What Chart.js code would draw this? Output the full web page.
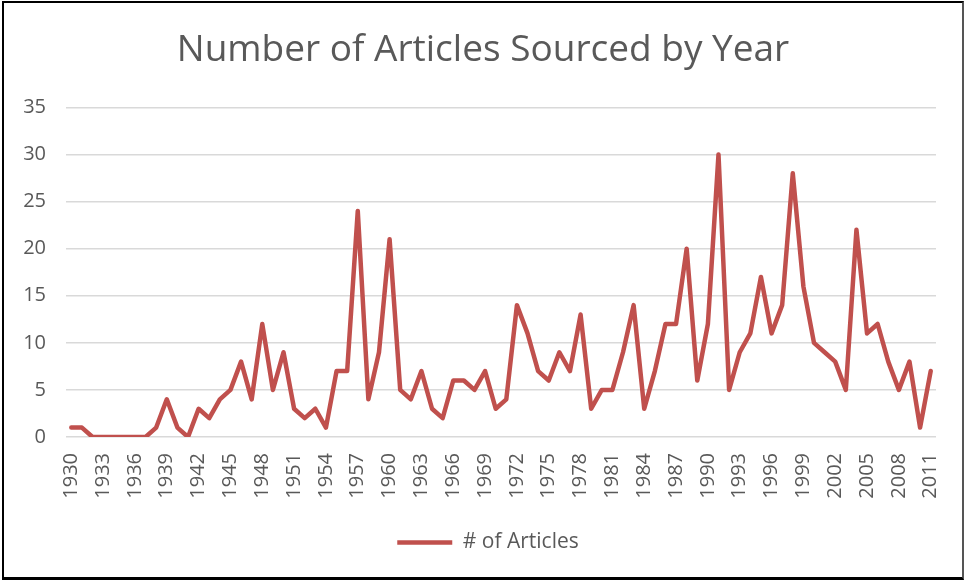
<!DOCTYPE html>
<html>
<head>
<meta charset="utf-8">
<script src="https://cdn.jsdelivr.net/npm/chart.js@4.4.1/dist/chart.umd.min.js"></script>
<style>
  html, body { margin: 0; padding: 0; background: #fff; }
  #wrap { position: relative; width: 964px; height: 581px; }
  #c { position: absolute; left: 0; top: 0; }
  #frame { position: absolute; left: 2px; top: 1px; width: 958px; height: 574px;
           border-left: 2px solid #000; border-top: 2px solid #000;
           border-right: 2px solid #555; border-bottom: 3px solid #000; pointer-events: none; }
</style>
</head>
<body>
<div id="wrap">
  <canvas id="c" width="964" height="581"></canvas>
  <div id="frame"></div>
</div>
<script>
const years = [];
for (let y = 1930; y <= 2011; y++) years.push(String(y));

const articles = [
  1, 1, 0, 0, 0, 0, 0, 0, 1, 4,      // 1930-1939
  1, 0, 3, 2, 4, 5, 8, 4, 12, 5,     // 1940-1949
  9, 3, 2, 3, 1, 7, 7, 24, 4, 9,     // 1950-1959
  21, 5, 4, 7, 3, 2, 6, 6, 5, 7,     // 1960-1969
  3, 4, 14, 11, 7, 6, 9, 7, 13, 3,   // 1970-1979
  5, 5, 9, 14, 3, 7, 12, 12, 20, 6,  // 1980-1989
  12, 30, 5, 9, 11, 17, 11, 14, 28, 16, // 1990-1999
  10, 9, 8, 5, 22, 11, 12, 8, 5, 8,  // 2000-2009
  1, 7                               // 2010-2011
];

const yTicks = [0, 5, 10, 15, 20, 25, 30, 35];
const seriesName = '# of Articles';
const titleText = 'Number of Articles Sourced by Year';

const FONT = '"Open Sans", sans-serif';
const GREY = '#595959';

// shift title and legend horizontally to match the reference centring
const shiftPlugin = {
  id: 'shiftBoxes',
  afterLayout(chart) {
    if (chart.titleBlock) { chart.titleBlock.left += 15; chart.titleBlock.right += 15; }
    if (chart.legend) { chart.legend.left += 20; chart.legend.right += 20; }
  }
};

new Chart(document.getElementById('c'), {
  type: 'line',
  data: {
    labels: years,
    datasets: [{
      label: seriesName,
      data: articles,
      borderColor: '#C0504D',
      backgroundColor: '#C0504D',
      borderWidth: 4.5,
      pointRadius: 0,
      pointHoverRadius: 0,
      tension: 0,
      borderJoinStyle: 'round',
      borderCapStyle: 'round'
    }]
  },
  plugins: [shiftPlugin],
  options: {
    responsive: false,
    animation: false,
    layout: { padding: { left: 0, right: 28, top: 0, bottom: 18 } },
    plugins: {
      title: {
        display: true,
        text: titleText,
        color: GREY,
        font: { family: FONT, size: 37, weight: 'normal' },
        padding: { top: 28, bottom: 35 }
      },
      legend: {
        display: true,
        position: 'bottom',
        labels: {
          usePointStyle: true,
          pointStyle: 'line',
          pointStyleWidth: 55,
          color: GREY,
          font: { family: FONT, size: 21 },
          padding: 10
        }
      },
      tooltip: { enabled: false }
    },
    scales: {
      x: {
        type: 'category',
        offset: true,
        grid: { display: false, drawTicks: false },
        border: { display: false },
        ticks: {
          autoSkip: false,
          minRotation: 90,
          maxRotation: 90,
          color: GREY,
          font: { family: FONT, size: 20 },
          padding: 16,
          callback: function (v, i) { return i % 3 === 0 ? years[i] : ''; }
        },
        afterFit: function (s) { s.height = 85; s.paddingLeft = 0; s.paddingRight = 0; }
      },
      y: {
        min: 0,
        max: 35,
        afterBuildTicks: function (s) { s.ticks = yTicks.map(v => ({ value: v })); },
        grid: { color: '#d9d9d9', lineWidth: 1.5, drawTicks: false },
        border: { display: false },
        ticks: {
          color: GREY,
          font: { family: FONT, size: 20 },
          padding: 20
        },
        afterFit: function (s) { s.width = 66; }
      }
    }
  }
});
</script>
</body>
</html>
